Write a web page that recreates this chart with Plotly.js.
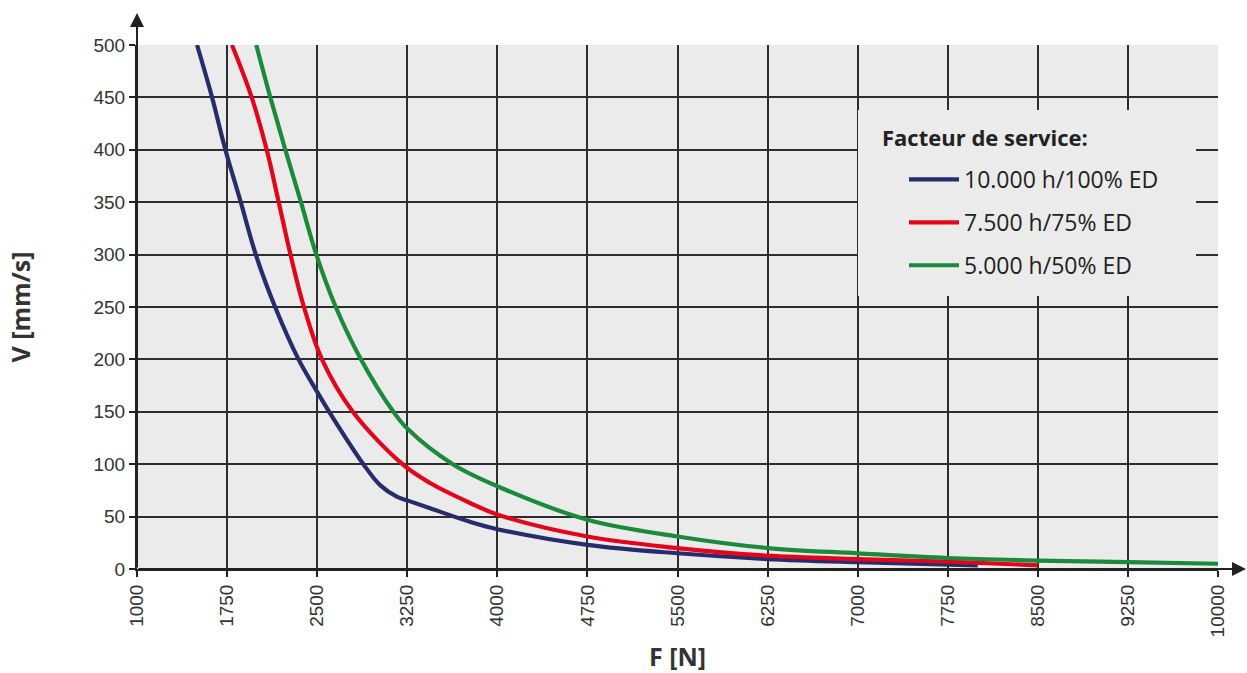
<!DOCTYPE html>
<html>
<head>
<meta charset="utf-8">
<script src="https://cdn.plot.ly/plotly-3.0.1.min.js"></script>
<style>html,body{margin:0;padding:0;background:#fff;}#chart{width:1247px;height:673px;}</style>
</head>
<body>
<div id="chart"></div>
<script>
// Data
const blueF = [1500,1625,1736,1864,1989,2150,2345,2500,2600,2885,3024,3163,3250,3440,3773,4000,4750,5500,6250,7000,8000];
const blueV = [500,450,400,350,300,250,200,169,150,100,80,69,65.5,58,45,38,23,15,9.5,6.5,3.5];
const redF = [1791,1955,2080,2180,2278,2390,2540,2797,3210,3440,3773,4000,4750,5500,6250,7000,7750,8500];
const redV = [500,450,400,350,300,250,200,150,100,82,63,52,31,20,12.7,9.5,7,3.5];
const greenF = [1993,2110,2235,2365,2493,2655,2865,3135,3250,3629,4000,4750,5500,6250,7000,7750,8500,9250,10000];
const greenV = [500,450,400,350,300,250,200,150,134,100,79,47,31,20,15,10.5,8,6.5,5];

const seriesNames = ["10.000 h/100% ED","7.500 h/75% ED","5.000 h/50% ED"];
const xTicks = [1000,1750,2500,3250,4000,4750,5500,6250,7000,7750,8500,9250,10000];
const yTicks = [0,50,100,150,200,250,300,350,400,450,500];
const legendTitle = "Facteur de service:";
const xTitle = "F [N]";
const yTitle = "V [mm/s]";

const colors = ["#272d6c","#e3051b","#1b8a3b"];

function tr(x,y,name,color,grp){
  return {x:x,y:y,name:name,type:"scatter",mode:"lines",legendgroup:grp,
    line:{color:color,width:4.2,shape:"spline",smoothing:1},hoverinfo:"skip"};
}
const data = [
  tr(blueF,blueV,seriesNames[0],colors[0],"a"),
  tr(redF,redV,seriesNames[1],colors[1],"b"),
  tr(greenF,greenV,seriesNames[2],colors[2],"c")
];

const L=137, R=29, T=45, B=104, W=1247, H=673;
const pw=W-L-R, ph=H-T-B;
function px(xp){return (xp-L)/pw;}
function py(yp){return (H-B-yp)/ph;}

const axisCommon = {
  showgrid:true, gridcolor:"#2d2d2d", gridwidth:2,
  showline:true, linecolor:"#222", linewidth:2,
  ticks:"outside", ticklen:6, tickwidth:2, tickcolor:"#222",
  zeroline:false, fixedrange:true,
  tickfont:{family:"Liberation Sans, Arial, sans-serif", size:19, color:"#333"}
};

const layout = {
  width:W, height:H,
  margin:{l:L,r:R,t:T,b:B,pad:0},
  paper_bgcolor:"#ffffff", plot_bgcolor:"#ebebeb",
  showlegend:true,
  xaxis:Object.assign({}, axisCommon, {
    range:[1000,10000], tickmode:"array", tickvals:xTicks, ticktext:xTicks.map(String),
    tickangle:-90,
    title:{text:xTitle, font:{family:"Open Sans, sans-serif", size:25, color:"#333", weight:700}, standoff:18}
  }),
  yaxis:Object.assign({}, axisCommon, {
    range:[0,500], tickmode:"array", tickvals:yTicks, ticktext:yTicks.map(String),
    title:{text:yTitle, font:{family:"Open Sans, sans-serif", size:25, color:"#333", weight:700}, standoff:56}
  }),
  legend:{
    x:px(904), y:py(158), xanchor:"left", yanchor:"top",
    bgcolor:"rgba(0,0,0,0)", borderwidth:0,
    font:{family:"Open Sans, sans-serif", size:23, color:"#222"},
    tracegroupgap:10, itemwidth:50, traceorder:"grouped"
  },
  shapes:[
    {type:"rect", xref:"paper", yref:"paper", x0:px(858), x1:px(1196), y0:py(296), y1:py(110),
     fillcolor:"#ebebeb", line:{width:0}, layer:"above"}
  ],
  annotations:[
    {xref:"paper", yref:"paper", x:px(880), y:py(137), xanchor:"left", yanchor:"middle",
     text:legendTitle, showarrow:false,
     font:{family:"Open Sans, sans-serif", size:22, color:"#222", weight:700}},
    {xref:"paper", yref:"paper", x:0, y:py(13), ax:0, ay:556, axref:"pixel", ayref:"pixel",
     text:"", showarrow:true, arrowhead:2, arrowsize:1.4, arrowwidth:2, arrowcolor:"#222"},
    {xref:"paper", yref:"paper", x:px(1247), y:0, ax:-1110, ay:0, axref:"pixel", ayref:"pixel",
     text:"", showarrow:true, arrowhead:2, arrowsize:1.4, arrowwidth:2, arrowcolor:"#222"}
  ]
};

Plotly.newPlot("chart", data, layout, {displayModeBar:false, staticPlot:true});
</script>
</body>
</html>
